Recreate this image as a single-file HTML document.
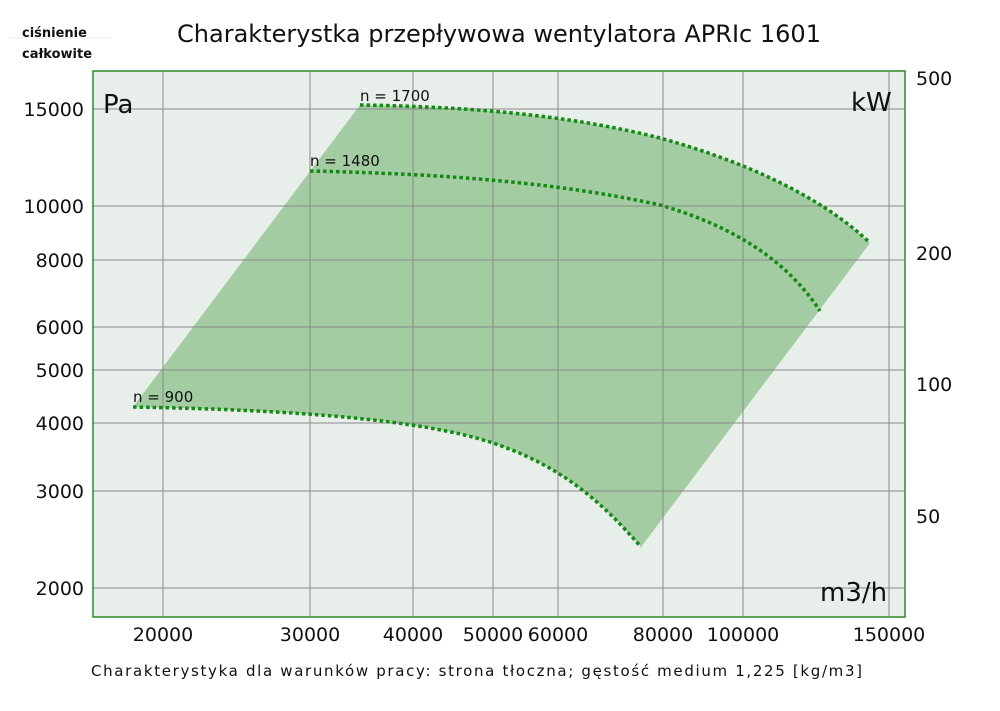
<!DOCTYPE html>
<html><head><meta charset="utf-8"><style>
body{margin:0;background:#fff;width:1000px;height:706px;overflow:hidden}
svg text{font-family:"DejaVu Sans","Liberation Sans",sans-serif;fill:#111}
</style></head><body>
<svg width="1000" height="706" xmlns="http://www.w3.org/2000/svg">
<text x="22" y="37" font-size="13" font-weight="bold" fill="#222">ciśnienie</text>
<line x1="8" y1="38" x2="112" y2="38" stroke="#eee"/>
<text x="22" y="58" font-size="13" font-weight="bold" fill="#222">całkowite</text>
<text x="177" y="42" font-size="24" textLength="644" lengthAdjust="spacingAndGlyphs">Charakterystka przepływowa wentylatora APRIc 1601</text>
<rect x="93" y="71" width="812" height="546" fill="#e8eee9"/>
<path d="M133,407 L360,105 C490,107 580,118 660,138 C740,160 820,195 870,243 L641,547 C600,500 560,465 490,442 C420,420 300,410 133,407 Z" fill="#a3cca3"/>
<g stroke="#8a8a8a" stroke-width="1">
<line x1="163" y1="71" x2="163" y2="617"/><line x1="310" y1="71" x2="310" y2="617"/>
<line x1="413" y1="71" x2="413" y2="617"/><line x1="493" y1="71" x2="493" y2="617"/>
<line x1="558" y1="71" x2="558" y2="617"/><line x1="663" y1="71" x2="663" y2="617"/>
<line x1="743" y1="71" x2="743" y2="617"/><line x1="889" y1="71" x2="889" y2="617"/>
<line x1="93" y1="109" x2="905" y2="109"/><line x1="93" y1="206" x2="905" y2="206"/>
<line x1="93" y1="260" x2="905" y2="260"/><line x1="93" y1="327" x2="905" y2="327"/>
<line x1="93" y1="370" x2="905" y2="370"/><line x1="93" y1="423" x2="905" y2="423"/>
<line x1="93" y1="491" x2="905" y2="491"/><line x1="93" y1="588" x2="905" y2="588"/>
</g>
<g fill="none" stroke="#138a13" stroke-width="3.5" stroke-dasharray="3.5 3">
<path d="M360,105 C490,107 580,118 660,138 C740,160 820,195 870,243"/>
<path d="M310,171 C450,174 560,183 660,205 C740,228 790,265 820,311"/>
<path d="M133,407 C300,410 420,420 490,442 C560,465 600,500 641,547"/>
</g>
<rect x="93" y="71" width="812" height="546" fill="none" stroke="#2a8a2a" stroke-width="1.5"/>
<g font-size="15"><text x="360" y="101">n = 1700</text><text x="310" y="166">n = 1480</text><text x="133" y="402">n = 900</text></g>
<text x="103" y="113" font-size="26">Pa</text>
<text x="851" y="111" font-size="26">kW</text>
<text x="820" y="601" font-size="26">m3/h</text>
<g font-size="19" text-anchor="end">
<text x="84" y="116">15000</text><text x="84" y="213">10000</text><text x="84" y="267">8000</text>
<text x="84" y="334">6000</text><text x="84" y="377">5000</text><text x="84" y="430">4000</text>
<text x="84" y="498">3000</text><text x="84" y="595">2000</text>
</g>
<g font-size="19"><text x="916" y="85">500</text><text x="916" y="260">200</text><text x="916" y="391">100</text><text x="916" y="523">50</text></g>
<g font-size="19" text-anchor="middle">
<text x="163" y="641">20000</text><text x="310" y="641">30000</text><text x="413" y="641">40000</text>
<text x="493" y="641">50000</text><text x="558" y="641">60000</text><text x="663" y="641">80000</text>
<text x="743" y="641">100000</text><text x="889" y="641">150000</text>
</g>
<text x="91" y="676" font-size="15" textLength="771" lengthAdjust="spacing">Charakterystyka dla warunków pracy: strona tłoczna; gęstość medium 1,225 [kg/m3]</text>
</svg>
</body></html>
